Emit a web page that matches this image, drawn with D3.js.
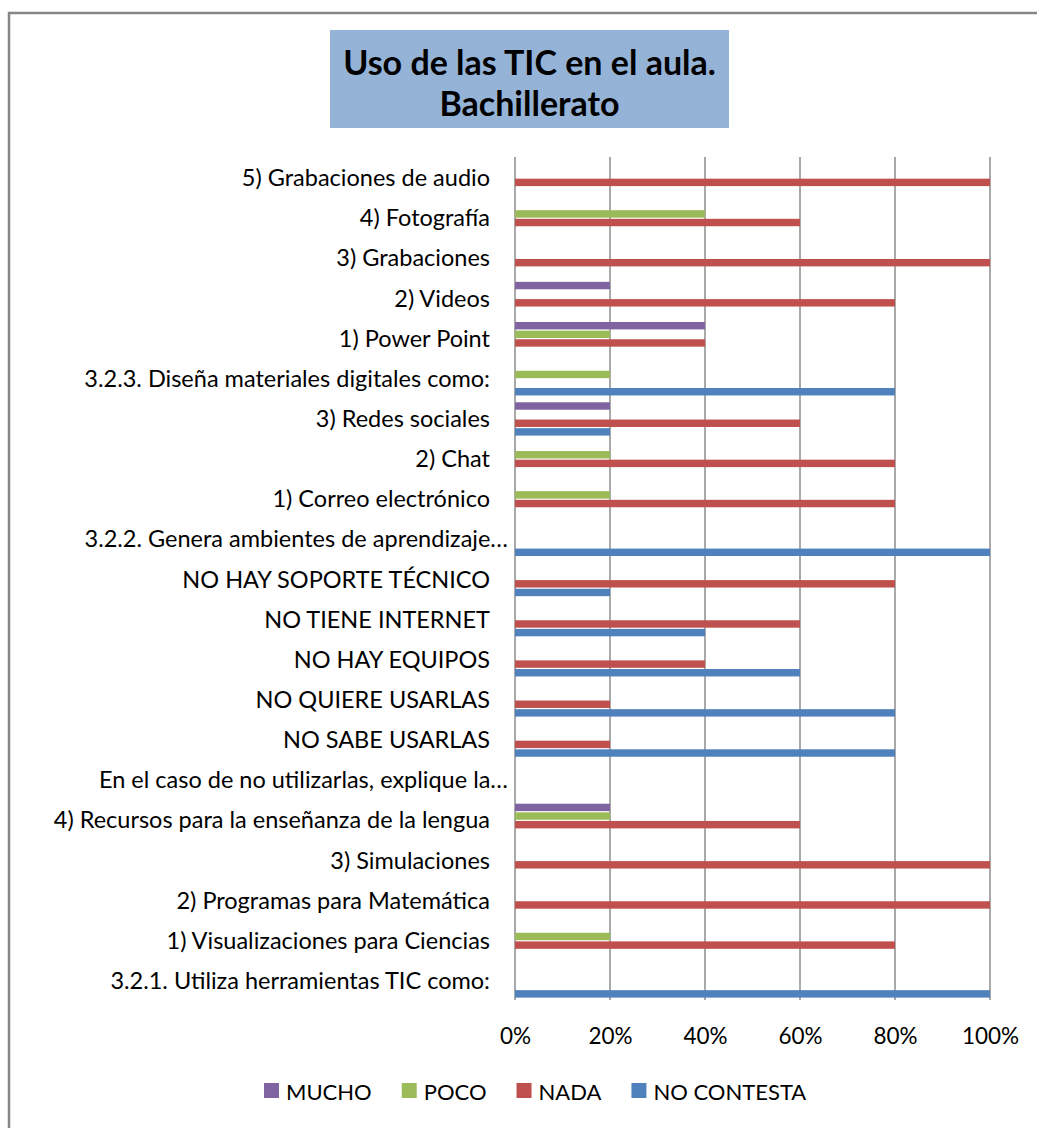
<!DOCTYPE html>
<html>
<head>
<meta charset="utf-8">
<script src="https://cdn.jsdelivr.net/npm/d3@7"></script>
<style>
	body { margin: 0; background: #ffffff; }
	text { font-family: Lato, "Open Sans", sans-serif; fill: #000000; }
</style>
</head>
<body>
<svg id="ChartSvg" width="1037" height="1128"></svg>
<script>
// categories, top to bottom as they appear
var Categories = [
	"5) Grabaciones de audio",
	"4) Fotografía",
	"3) Grabaciones",
	"2) Videos",
	"1) Power Point",
	"3.2.3. Diseña materiales digitales como:",
	"3) Redes sociales",
	"2) Chat",
	"1) Correo electrónico",
	"3.2.2. Genera ambientes de aprendizaje…",
	"NO HAY SOPORTE TÉCNICO",
	"NO TIENE INTERNET",
	"NO HAY EQUIPOS",
	"NO QUIERE USARLAS",
	"NO SABE USARLAS",
	"En el caso de no utilizarlas, explique la…",
	"4) Recursos para la enseñanza de la lengua",
	"3) Simulaciones",
	"2) Programas para Matemática",
	"1) Visualizaciones para Ciencias",
	"3.2.1. Utiliza herramientas TIC como:"
];

var Mucho      = [0, 0,   0, 0.2, 0.4, 0,   0.2, 0,   0,   0, 0,   0,   0,   0,   0,   0, 0.2, 0, 0, 0,   0];
var Poco       = [0, 0.4, 0, 0,   0.2, 0.2, 0,   0.2, 0.2, 0, 0,   0,   0,   0,   0,   0, 0.2, 0, 0, 0.2, 0];
var Nada       = [1, 0.6, 1, 0.8, 0.4, 0,   0.6, 0.8, 0.8, 0, 0.8, 0.6, 0.4, 0.2, 0.2, 0, 0.6, 1, 1, 0.8, 0];
var NoContesta = [0, 0,   0, 0,   0,   0.8, 0.2, 0,   0,   1, 0.2, 0.4, 0.6, 0.8, 0.8, 0, 0,   0, 0, 0,   1];

var SeriesNames = ["MUCHO", "POCO", "NADA", "NO CONTESTA"];
var SeriesColors = ["#8064a2", "#9bbb59", "#c0504d", "#4f81bd"];
var TickValues = [0, 0.2, 0.4, 0.6, 0.8, 1];

var TitleLines = ["Uso de las TIC en el aula.", "Bachillerato"];

function DrawChart()
{
	var Svg = d3.select("#ChartSvg");
	var SeriesValues = [Mucho, Poco, Nada, NoContesta];

	var Left = 515, Right = 990, Top = 157, Bottom = 1000;

	// chart area border (runs off the right and bottom of the picture)
	Svg.append("rect")
		.attr("x", 9).attr("y", 13)
		.attr("width", 1060).attr("height", 1140)
		.attr("fill", "#ffffff")
		.attr("stroke", "#868686")
		.attr("stroke-width", 2.5);

	// title box
	Svg.append("rect")
		.attr("x", 330).attr("y", 30)
		.attr("width", 399).attr("height", 98)
		.attr("fill", "#95b3d7");

	Svg.selectAll(".title")
		.data(TitleLines)
		.enter()
		.append("text")
		.attr("class", "title")
		.attr("x", 529.5)
		.attr("y", function(d, i) { return 61 + i * 41; })
		.attr("text-anchor", "middle")
		.attr("dominant-baseline", "central")
		.style("font-size", "34px")
		.style("font-weight", "bold")
		.text(function(d) { return d; });

	var X = d3.scaleLinear().domain([0, 1]).range([Left, Right]);

	var Y0 = d3.scaleBand()
		.domain(Categories)
		.range([Top, Bottom])
		.padding(0);

	var Bw = Y0.bandwidth();
	var Y1 = d3.scaleBand()
		.domain(SeriesNames)
		.range([Bw * 0.11, Bw * 0.94])
		.paddingInner(0.14);

	// gridlines
	Svg.append("g")
		.selectAll("line")
		.data(TickValues)
		.enter()
		.append("line")
		.attr("x1", function(d) { return X(d); })
		.attr("x2", function(d) { return X(d); })
		.attr("y1", Top)
		.attr("y2", Bottom)
		.attr("stroke", "#8c8c8c")
		.attr("stroke-width", 1.5);

	// bars
	var Groups = Svg.append("g")
		.selectAll("g")
		.data(Categories)
		.enter()
		.append("g")
		.attr("transform", function(d) { return "translate(0," + Y0(d) + ")"; });

	Groups.selectAll("rect")
		.data(function(d, i)
		{
			return SeriesNames.map(function(s, k)
			{
				return { Series: s, Value: SeriesValues[k][i], Color: SeriesColors[k] };
			});
		})
		.enter()
		.append("rect")
		.attr("x", X(0))
		.attr("y", function(d) { return Y1(d.Series); })
		.attr("width", function(d) { return X(d.Value) - X(0); })
		.attr("height", Y1.bandwidth())
		.attr("fill", function(d) { return d.Color; });

	// x axis tick labels
	var XAxis = d3.axisBottom(X)
		.tickValues(TickValues)
		.tickFormat(d3.format(".0%"))
		.tickSize(0)
		.tickPadding(0);

	var XAxisG = Svg.append("g")
		.attr("transform", "translate(0," + Bottom + ")")
		.call(XAxis);
	XAxisG.select(".domain").remove();
	XAxisG.selectAll("text")
		.attr("y", 35)
		.attr("dy", null)
		.attr("dominant-baseline", "central")
		.style("font-size", "22.5px")
		.style("font-family", "Lato, sans-serif")
		.attr("fill", "#000000");

	// category labels
	Svg.append("g")
		.selectAll("text")
		.data(Categories)
		.enter()
		.append("text")
		.attr("x", function(d)
		{
			// truncated labels use the full label area
			return d.slice(-1) == "…" ? 508 : 490;
		})
		.attr("y", function(d) { return Y0(d) + Bw / 2; })
		.attr("text-anchor", "end")
		.attr("dominant-baseline", "central")
		.style("font-size", "23.5px")
		.text(function(d) { return d; });

	// legend
	var LegendX = 264;
	var Legend = Svg.append("g");
	SeriesNames.forEach(function(Name, k)
	{
		Legend.append("rect")
			.attr("x", LegendX).attr("y", 1083)
			.attr("width", 15).attr("height", 15)
			.attr("fill", SeriesColors[k]);
		var T = Legend.append("text")
			.attr("x", LegendX + 22)
			.attr("y", 1091)
			.attr("dominant-baseline", "central")
			.style("font-size", "22px")
			.text(Name);
		LegendX = LegendX + 22 + T.node().getComputedTextLength() + 30;
	});
}

DrawChart();
</script>
</body>
</html>
